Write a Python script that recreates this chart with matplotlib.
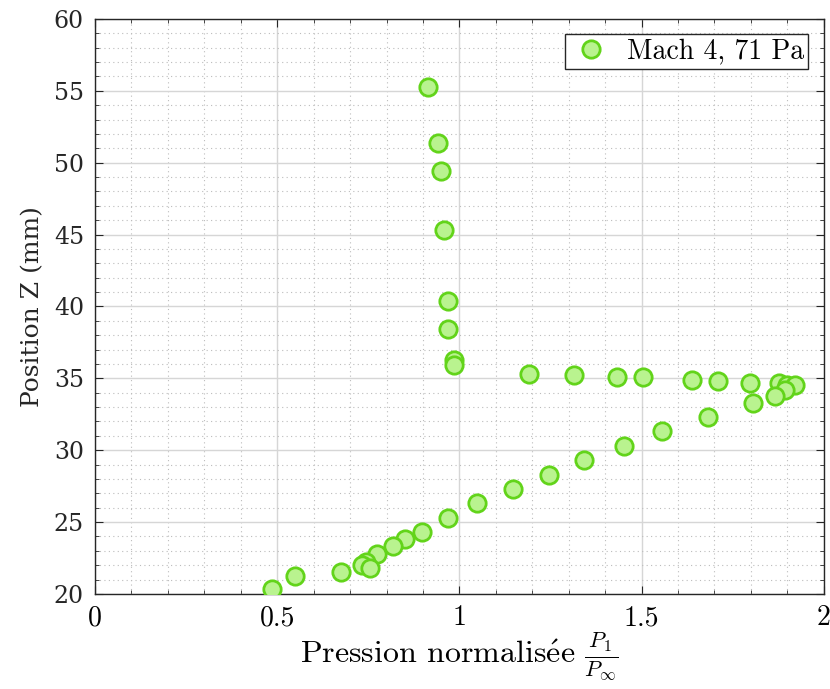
import matplotlib
matplotlib.use("Agg")
import matplotlib.pyplot as plt
from matplotlib.ticker import MultipleLocator

plt.rcParams["font.family"] = ["cmr10", "DejaVu Serif"]
plt.rcParams["mathtext.fontset"] = "cm"
plt.rcParams["axes.formatter.use_mathtext"] = True

# Pression normalisée P1/Pinf et position Z (mm)
pression = [
    0.914, 0.941, 0.949, 0.957, 0.968, 0.968, 0.985, 0.985,
    1.191, 1.314, 1.432, 1.503, 1.638, 1.709, 1.797, 1.877, 1.898, 1.920,
    1.893, 1.866, 1.805, 1.682, 1.556, 1.451, 1.342, 1.246, 1.147, 1.048,
    0.968, 0.897, 0.850, 0.818, 0.774, 0.743, 0.733, 0.754, 0.675, 0.549, 0.486,
]
position_z = [
    55.3, 51.4, 49.4, 45.3, 40.4, 38.4, 36.3, 35.9,
    35.3, 35.2, 35.1, 35.1, 34.9, 34.8, 34.7, 34.7, 34.5, 34.5,
    34.2, 33.8, 33.3, 32.3, 31.3, 30.3, 29.3, 28.3, 27.3, 26.3,
    25.3, 24.3, 23.8, 23.3, 22.8, 22.2, 22.0, 21.8, 21.5, 21.25, 20.35,
]
label = "Mach 4, 71 Pa"

fig = plt.figure(figsize=(8.3, 6.89), dpi=100)
ax = fig.add_axes([0.1145, 0.138, 0.878, 0.8345])

ax.plot(pression, position_z, "o", linestyle="none", markersize=12.5,
        markerfacecolor="#b9f38f", markeredgecolor="#62d41a",
        markeredgewidth=2.0, label=label, zorder=3)

ax.set_xlim(0, 2)
ax.set_ylim(20, 60)
ax.xaxis.set_major_locator(MultipleLocator(0.5))
ax.xaxis.set_minor_locator(MultipleLocator(0.1))
ax.yaxis.set_major_locator(MultipleLocator(5))
ax.yaxis.set_minor_locator(MultipleLocator(1))
ax.xaxis.set_major_formatter(lambda v, _: f"{v:g}")
ax.yaxis.set_major_formatter(lambda v, _: f"{v:g}")

ax.grid(True, which="major", color="#d6d6d6", linewidth=1.0, zorder=0)
ax.grid(True, which="minor", color="#bcbcbc", linestyle=(0, (1, 3)),
        linewidth=0.8, zorder=0)
ax.set_axisbelow(True)

ax.tick_params(which="both", direction="in", top=True, right=True,
               color="#262626")
ax.tick_params(which="major", length=6)
ax.tick_params(which="minor", length=3)
ax.tick_params(axis="x", which="major", labelsize=20, pad=8)
ax.tick_params(axis="y", which="major", pad=8)
for lab in ax.get_yticklabels():
    lab.set_fontfamily("DejaVu Serif")
    lab.set_fontsize(17)
    lab.set_color("#262626")
for spine in ax.spines.values():
    spine.set_color("#262626")
    spine.set_linewidth(1.0)

ax.set_ylabel("Position Z (mm)", fontsize=18, family="DejaVu Serif",
              color="#262626", labelpad=7)
ax.set_xlabel(r"Pression normalis$\acute{\mathrm{e}}$e $\frac{P_1}{P_\infty}$",
              fontsize=23, labelpad=-1)

leg = ax.legend(loc="upper right", fontsize=20, fancybox=False,
                framealpha=1, edgecolor="#262626", borderaxespad=0.55,
                handletextpad=0.5, borderpad=0.15, handlelength=1.6)
leg.get_frame().set_linewidth(1.0)

fig.savefig("out.png", dpi=100)
plt.close(fig)
